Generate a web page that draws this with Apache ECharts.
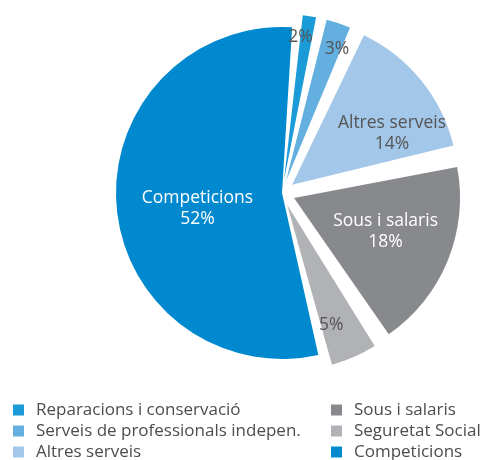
<!DOCTYPE html>
<html>
<head>
<meta charset="utf-8">
<script src="https://cdn.jsdelivr.net/npm/echarts@6/dist/echarts.min.js"></script>
<style>html,body{margin:0;padding:0;background:#fff;}#c{width:490px;height:460px;}</style>
</head>
<body>
<div id="c"></div>
<script>
// ---- data ----
const categories = ['Reparacions i conservació', 'Serveis de professionals indepen.', 'Altres serveis', 'Sous i salaris', 'Seguretat Social', 'Competicions'];
const values = [2, 3, 14, 18, 5, 52];
const showNameInLabel = [false, false, true, true, false, true];

// ---- styles ----
const colors = ['#1b9bd7', '#63afe0', '#a2c7e9', '#88898d', '#b1b2b6', '#0089cf'];
const labelColors = ['#555555', '#555555', '#555555', '#ffffff', '#555555', '#ffffff'];
const exploded = [true, true, true, true, true, false];
const EXPLODE = 13;
const labelRadiusFactor = [0.85, 0.83, 0.66, 0.57, 0.75, 0.5];
const labelAngleShift = [-2.3, 2.8, 12, -2, 3.6, -6];
const START_ANGLE = 85;
const PAD = 3;
const RADIUS = 166;
const FONT = '"Open Sans", "Noto Sans", sans-serif';

const total = values.reduce((a, b) => a + b, 0);
function midAngleDeg(i) {
  let cum = 0;
  for (let k = 0; k < i; k++) cum += values[k];
  return (90 - START_ANGLE) + (cum + values[i] / 2) / total * 360;
}
const rad = d => d * Math.PI / 180;

const chart = echarts.init(document.getElementById('c'), null, {renderer: 'canvas'});
const data = categories.map((n, i) => ({
  name: n,
  value: values[i],
  selected: exploded[i],
  itemStyle: {color: colors[i]},
  label: {color: labelColors[i]}
}));

const legendCommon = {
  orient: 'vertical', top: 401.5, height: 80, padding: 0,
  icon: 'rect', itemWidth: 11, itemHeight: 11, itemGap: 4,
  selectedMode: false,
  textStyle: {fontFamily: FONT, fontSize: 17, lineHeight: 17, color: '#4d4d4d', padding: [0, 0, 0, 7]}
};

chart.setOption({
  animation: false,
  backgroundColor: '#ffffff',
  legend: [
    Object.assign({data: categories.slice(0, 3), left: 13}, legendCommon),
    Object.assign({data: categories.slice(3), left: 331}, legendCommon)
  ],
  series: [{
    type: 'pie',
    center: [282, 193],
    radius: [0, RADIUS],
    startAngle: START_ANGLE,
    padAngle: PAD,
    clockwise: true,
    selectedMode: 'multiple',
    selectedOffset: EXPLODE,
    avoidLabelOverlap: false,
    emphasis: {disabled: true},
    itemStyle: {borderWidth: 0},
    label: {
      position: 'inside',
      fontFamily: FONT,
      fontSize: 17.5,
      lineHeight: 21,
      formatter: function (p) {
        return showNameInLabel[p.dataIndex] ? p.name + '\n' + p.value + '%' : p.value + '%';
      }
    },
    labelLine: {show: false},
    labelLayout: function (p) {
      const i = p.dataIndex;
      const m = midAngleDeg(i);
      const t = m + labelAngleShift[i];
      const k = labelRadiusFactor[i];
      const dx = k * RADIUS * Math.sin(rad(t)) - 0.5 * RADIUS * Math.sin(rad(m));
      const dy = -k * RADIUS * Math.cos(rad(t)) + 0.5 * RADIUS * Math.cos(rad(m));
      return {dx: dx, dy: dy};
    },
    data: data
  }]
});
</script>
</body>
</html>
